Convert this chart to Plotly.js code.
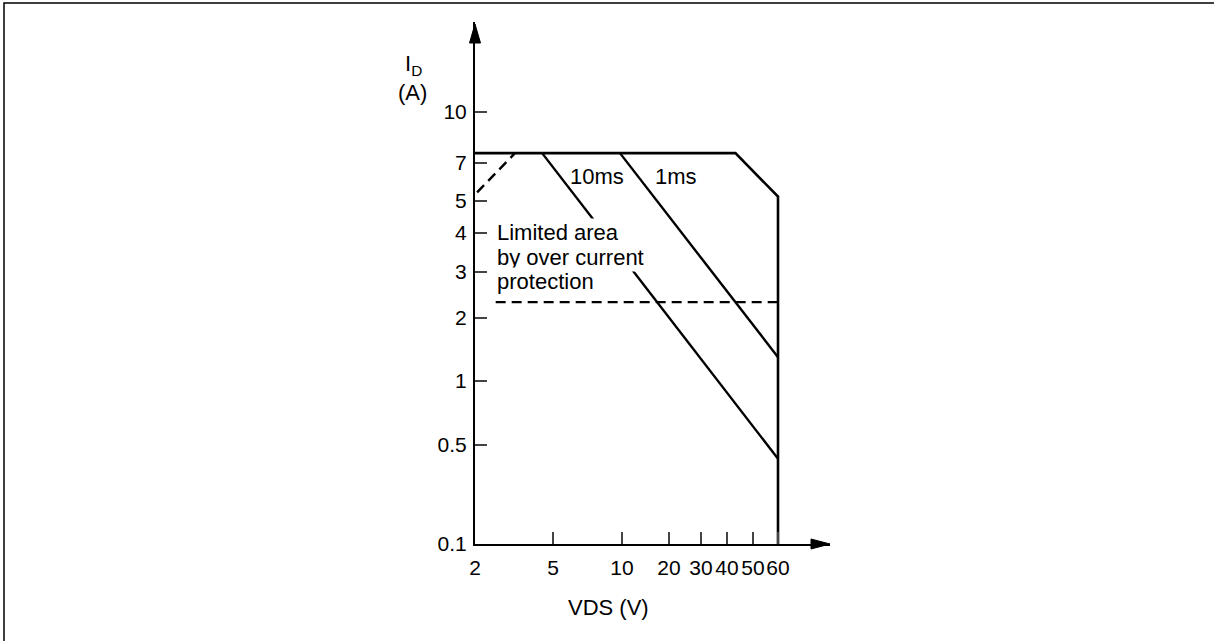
<!DOCTYPE html>
<html>
<head>
<meta charset="utf-8">
<script src="https://cdn.plot.ly/plotly-3.0.1.min.js"></script>
<style>html,body{margin:0;padding:0;background:#fff;}#chart{width:1214px;height:641px;}</style>
</head>
<body>
<div id="chart"></div>
<script>
// ---- tick labels / categories ----
const VDS_TICKS = [2, 5, 10, 20, 30, 40, 50, 60];
const ID_TICKS = [0.1, 0.5, 1, 2, 3, 4, 5, 7, 10];

// ---- series values (VDS in V, ID in A) ----
const boundaryVds = [2, 43, 60, 60];
const boundaryId = [7.5, 7.5, 5.2, 0.1];
const pulse10msVds = [4.4, 60];
const pulse10msId = [7.5, 0.4];
const pulse1msVds = [9.8, 60];
const pulse1msId = [7.5, 1.3];
const rdsLimitVds = [2.05, 3.2];
const rdsLimitId = [5.4, 7.5];
const ocpVds = [2.55, 60];
const ocpId = [2.3, 2.3];

// ---- schematic (non-uniform log) scale used by the original drawing ----
const X_SCALE_POS = [0, 78, 147, 194, 226, 252, 278, 303];
const Y_SCALE_POS = [0, 99, 163, 226, 272, 311, 343, 381, 432];

function makeScale(ticks, pos) {
  return function (v) {
    const lv = Math.log10(v);
    let i = 0;
    while (i < ticks.length - 2 && lv > Math.log10(ticks[i + 1])) i++;
    const a = Math.log10(ticks[i]), b = Math.log10(ticks[i + 1]);
    const t = (lv - a) / (b - a);
    return pos[i] + t * (pos[i + 1] - pos[i]);
  };
}
const sx = makeScale(VDS_TICKS, X_SCALE_POS);
const sy = makeScale(ID_TICKS, Y_SCALE_POS);

const W = 1214, H = 641;
const M = {l: 475, r: 384, t: 22, b: 97};
const PW = W - M.l - M.r, PH = H - M.t - M.b;
const px = x => (x - M.l) / PW;          // pixel -> paper x
const py = y => (H - M.b - y) / PH;      // pixel -> paper y

const FONT = 'Liberation Sans, Arial, Helvetica, sans-serif';
const FS = 22;
const TFS = 21;

function line(vds, id, dash, width) {
  return {
    type: 'scatter', mode: 'lines',
    x: vds.map(sx), y: id.map(sy),
    line: {color: '#000', width: width || 2.4, dash: dash || 'solid'},
    hoverinfo: 'skip', showlegend: false, cliponaxis: false
  };
}

const data = [
  line(boundaryVds, boundaryId, 'solid', 2.6),
  line(pulse10msVds, pulse10msId),
  line(pulse1msVds, pulse1msId),
  line(rdsLimitVds, rdsLimitId, '10px,6px'),
  line(ocpVds, ocpId, '10px,6px')
];

const ann = (text, x, y, xanchor, yanchor, extra) => Object.assign({
  text, xref: 'paper', yref: 'paper', x: px(x), y: py(y),
  xanchor: xanchor || 'center', yanchor: yanchor || 'middle',
  showarrow: false, font: {family: FONT, size: FS, color: '#000'}
}, extra || {});

const noteBox = {bgcolor: '#fff', borderpad: 1, align: 'left'};

const layout = {
  width: W, height: H,
  margin: M,
  paper_bgcolor: '#fff', plot_bgcolor: '#fff',
  showlegend: false,
  font: {family: FONT, size: FS, color: '#000'},
  xaxis: {
    range: [0, PW], fixedrange: true,
    tickmode: 'array', tickvals: VDS_TICKS.map(sx), ticktext: VDS_TICKS.map(String),
    tickangle: 0,
    ticks: 'inside', ticklen: 12, tickwidth: 1.3, tickcolor: '#444',
    showline: true, linecolor: '#000', linewidth: 2,
    showgrid: false, zeroline: false,
    tickfont: {family: FONT, size: TFS, color: '#000'},
    ticklabelstandoff: 4
  },
  yaxis: {
    range: [0, PH], fixedrange: true,
    tickmode: 'array', tickvals: ID_TICKS.map(sy), ticktext: ID_TICKS.map(String),
    ticks: 'inside', ticklen: 12, tickwidth: 1.3, tickcolor: '#444',
    showline: true, linecolor: '#000', linewidth: 2,
    showgrid: false, zeroline: false,
    tickfont: {family: FONT, size: TFS, color: '#000'},
    ticklabelstandoff: 2
  },
  shapes: [
    // outer frame (top and left visible)
    {type: 'rect', xref: 'paper', yref: 'paper', x0: px(4), x1: px(1230), y0: py(3), y1: py(660),
     line: {color: '#000', width: 1.5}, fillcolor: 'rgba(0,0,0,0)', layer: 'below'},
    // x axis arrowhead
    {type: 'path', xref: 'paper', yref: 'paper',
     path: `M ${px(830)} ${py(544)} L ${px(811)} ${py(539)} L ${px(811)} ${py(549)} Z`,
     fillcolor: '#000', line: {color: '#000', width: 1}},
    // y axis arrowhead
    {type: 'path', xref: 'paper', yref: 'paper',
     path: `M ${px(475)} ${py(24)} L ${px(469.5)} ${py(43)} L ${px(480.5)} ${py(43)} Z`,
     fillcolor: '#000', line: {color: '#000', width: 1}}
  ],
  annotations: [
    ann('I<sub>D</sub>', 413, 65),
    ann('(A)', 412, 92),
    ann('10ms', 597, 177),
    ann('1ms', 676, 177),
    ann('Limited area', 495, 233, 'left', 'middle', noteBox),
    ann('by over current', 495, 257, 'left', 'middle', noteBox),
    ann('protection', 495, 281, 'left', 'middle', noteBox),
    ann('VDS (V)', 608, 607)
  ]
};

Plotly.newPlot('chart', data, layout, {displayModeBar: false, staticPlot: true});
</script>
</body>
</html>
